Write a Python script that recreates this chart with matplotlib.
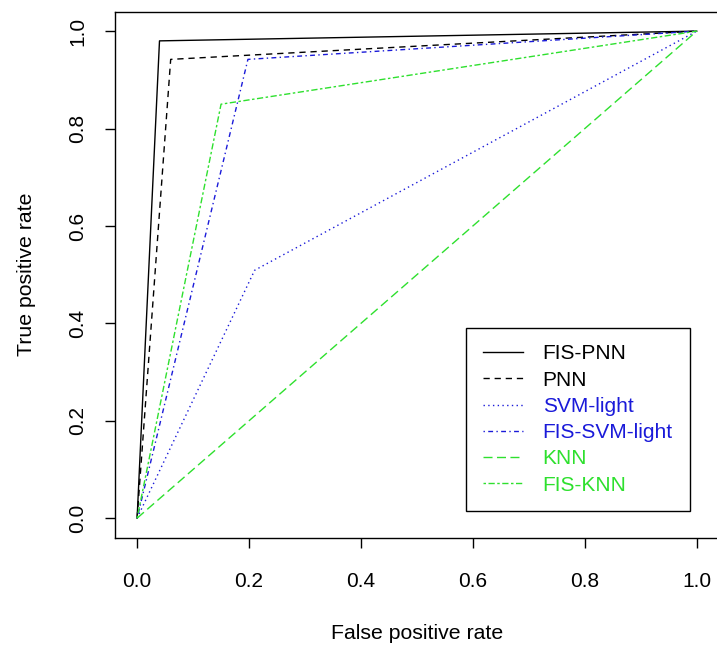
import matplotlib.pyplot as plt

plt.rcParams['font.family'] = ['Liberation Sans', 'DejaVu Sans']

# ROC curves: (false positive rate, true positive rate)
names = ['FIS-PNN', 'PNN', 'SVM-light', 'FIS-SVM-light', 'KNN', 'FIS-KNN']
fpr = {
    'FIS-PNN': [0.0, 0.04, 1.0],
    'PNN': [0.0, 0.06, 1.0],
    'SVM-light': [0.0, 0.21, 1.0],
    'FIS-SVM-light': [0.0, 0.198, 1.0],
    'KNN': [0.0, 1.0],
    'FIS-KNN': [0.0, 0.15, 1.0],
}
tpr = {
    'FIS-PNN': [0.0, 0.98, 1.0],
    'PNN': [0.0, 0.942, 1.0],
    'SVM-light': [0.0, 0.509, 1.0],
    'FIS-SVM-light': [0.0, 0.942, 1.0],
    'KNN': [0.0, 1.0],
    'FIS-KNN': [0.0, 0.85, 1.0],
}
ticks = [0.0, 0.2, 0.4, 0.6, 0.8, 1.0]

blue = '#1a1ad9'
green = '#2ee02e'
styles = {
    'FIS-PNN': ('black', '-'),
    'PNN': ('black', (0, (4.5, 3.5))),
    'SVM-light': (blue, (0, (1, 2.4))),
    'FIS-SVM-light': (blue, (0, (1, 2.4, 3.5, 2.4))),
    'KNN': (green, (0, (6.5, 3.2))),
    'FIS-KNN': (green, (0, (1.8, 1.8, 4.5, 1.8))),
}

fig = plt.figure(figsize=(7.17, 6.47), dpi=100)
ax = fig.add_axes([0.16, 0.169, 0.843, 0.813])

for n in names:
    c, ls = styles[n]
    ax.plot(fpr[n], tpr[n], color=c, linestyle=ls, linewidth=1.0, label=n)

ax.set_xlim(-0.04, 1.04)
ax.set_ylim(-0.04, 1.04)
ax.set_xticks(ticks)
ax.set_yticks(ticks)
ax.set_xticklabels(['%.1f' % t for t in ticks])
ax.set_yticklabels(['%.1f' % t for t in ticks], rotation=90, va='center')
ax.tick_params(axis='both', direction='out', length=7, width=1, labelsize=15)
ax.tick_params(axis='x', pad=18)
ax.tick_params(axis='y', pad=13)
for s in ax.spines.values():
    s.set_linewidth(1.0)

ax.set_xlabel('False positive rate', fontsize=15.3)
ax.set_ylabel('True positive rate', fontsize=15.3)
ax.xaxis.set_label_coords(0.5, -0.183)
ax.xaxis.label.set_verticalalignment('center')
ax.yaxis.set_label_coords(-0.146, 0.5)
ax.yaxis.label.set_verticalalignment('center')

leg = ax.legend(loc='lower right', bbox_to_anchor=(0.951, 0.05), borderaxespad=0,
                fancybox=False, edgecolor='black', framealpha=1, fontsize=15,
                handlelength=1.92, handletextpad=0.95, labelspacing=0.35,
                borderpad=0.8)
leg.get_frame().set_linewidth(1.0)
for txt, n in zip(leg.get_texts(), names):
    txt.set_color(styles[n][0])

fig.savefig('out.png', dpi=100)
